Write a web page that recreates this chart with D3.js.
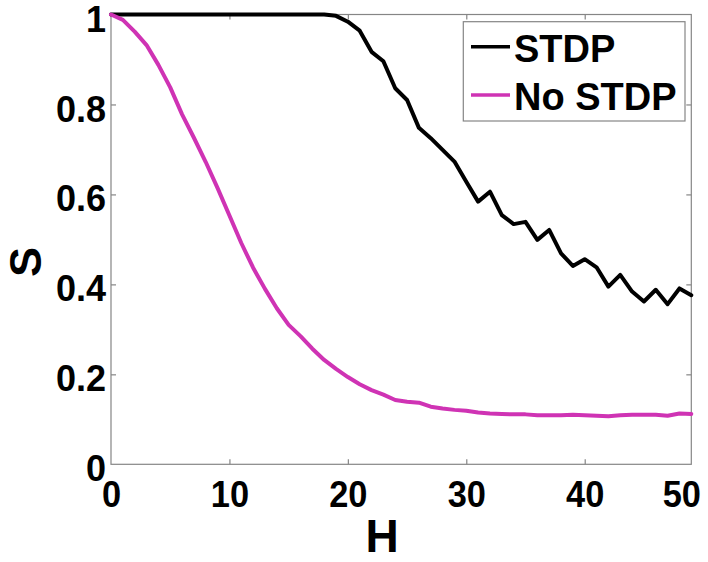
<!DOCTYPE html>
<html>
<head>
<meta charset="utf-8">
<script src="https://cdn.jsdelivr.net/npm/d3@7"></script>
<style>
  html, body { margin: 0; padding: 0; background: #fff; }
  svg { display: block; }
  text { font-family: "Liberation Sans", Arial, Helvetica, sans-serif; font-weight: bold; fill: #000; }
</style>
</head>
<body>
<svg id="chart" width="708" height="562"></svg>
<script>
// ---- data ----
const H = d3.range(0, 50);
const stdp = [1.0, 1.0, 1.0, 1.0, 1.0, 1.0, 1.0, 1.0, 1.0, 1.0,
              1.0, 1.0, 1.0, 1.0, 1.0, 1.0, 1.0, 1.0, 1.0, 0.997,
              0.984, 0.964, 0.917, 0.896, 0.836, 0.81, 0.748, 0.725, 0.699, 0.673,
              0.628, 0.584, 0.606, 0.554, 0.534, 0.539, 0.499, 0.521, 0.469, 0.441,
              0.456, 0.438, 0.395, 0.421, 0.384, 0.362, 0.388, 0.356, 0.391, 0.376];
const noStdp = [1.0, 0.988, 0.962, 0.932, 0.888, 0.838, 0.778, 0.726, 0.672, 0.614,
                0.553, 0.492, 0.437, 0.39, 0.347, 0.31, 0.285, 0.257, 0.232, 0.212,
                0.194, 0.178, 0.165, 0.155, 0.143, 0.139, 0.137, 0.128, 0.124, 0.121,
                0.119, 0.115, 0.113, 0.112, 0.111, 0.111, 0.109, 0.109, 0.109, 0.110,
                0.109, 0.108, 0.107, 0.109, 0.110, 0.110, 0.110, 0.108, 0.113, 0.112];
const seriesNames = ["STDP", "No STDP"];
const seriesColors = ["#000000", "#cf33b4"];
const xTicks = [0, 10, 20, 30, 40, 50];
const yTicks = [0, 0.2, 0.4, 0.6, 0.8, 1];
const yTickLabels = ["0", "0.2", "0.4", "0.6", "0.8", "1"];
const xLabel = "H";
const yLabel = "S";

// ---- layout ----
const pL = 111, pR = 691.3, pT = 14.5, pB = 464.3;
const svg = d3.select("#chart");
const x = d3.scaleLinear().domain([0, 49]).range([pL, pR]);
const y = d3.scaleLinear().domain([0, 1]).range([pB, pT]);
const frame = "#858585";
const fontFam = '"Liberation Sans", Arial, sans-serif';

// box
svg.append("rect").attr("x", pL).attr("y", pT)
  .attr("width", pR - pL).attr("height", pB - pT)
  .attr("fill", "#fff").attr("stroke", frame).attr("stroke-width", 1.2);

// bottom axis
const gx = svg.append("g").attr("transform", `translate(0,${pB})`)
  .call(d3.axisBottom(x).tickValues(xTicks).tickFormat(d3.format("d"))
    .tickSizeInner(-5).tickSizeOuter(0).tickPadding(16));
gx.select(".domain").remove();
gx.selectAll(".tick line").attr("stroke", frame).attr("stroke-width", 1.2)
  .attr("display", d => (d === 0 || d >= 49) ? "none" : null);
gx.selectAll(".tick text").attr("font-size", 37).style("font-family", fontFam)
  .style("font-weight", "bold").attr("fill", "#000")
  .attr("transform", "scale(0.93,1)")
  .attr("dx", d => d > 49 ? (pR - 10 - x(d)) / 0.93 : 0);

// top axis ticks (mirror)
const gxt = svg.append("g").attr("transform", `translate(0,${pT})`)
  .call(d3.axisTop(x).tickValues(xTicks.filter(d => d > 0 && d < 49)).tickFormat("").tickSizeInner(-5).tickSizeOuter(0));
gxt.select(".domain").remove();
gxt.selectAll(".tick line").attr("stroke", frame).attr("stroke-width", 1.2);

// left axis
const gy = svg.append("g").attr("transform", `translate(${pL},0)`)
  .call(d3.axisLeft(y).tickValues(yTicks).tickFormat((d, i) => yTickLabels[i])
    .tickSizeInner(-5).tickSizeOuter(0).tickPadding(5));
gy.select(".domain").remove();
gy.selectAll(".tick line").attr("stroke", frame).attr("stroke-width", 1.2)
  .attr("display", d => (d === 0 || d === 1) ? "none" : null);
gy.selectAll(".tick text").attr("font-size", 36).attr("dy", "0.46em")
  .style("font-family", fontFam).style("font-weight", "bold").attr("fill", "#000");

// right axis ticks (mirror)
const gyr = svg.append("g").attr("transform", `translate(${pR},0)`)
  .call(d3.axisRight(y).tickValues(yTicks.filter(d => d > 0 && d < 1)).tickFormat("").tickSizeInner(-5).tickSizeOuter(0));
gyr.select(".domain").remove();
gyr.selectAll(".tick line").attr("stroke", frame).attr("stroke-width", 1.2);

// axis titles
svg.append("text").attr("x", 382).attr("y", 552).attr("text-anchor", "middle")
  .attr("font-size", 46).text(xLabel);
svg.append("text").attr("transform", "translate(41,262) rotate(-90)").attr("text-anchor", "middle")
  .attr("font-size", 45).text(yLabel);

// lines
const line = d3.line().x((d, i) => x(H[i])).y(d => y(d));
[stdp, noStdp].forEach((s, k) => {
  svg.append("path").datum(s).attr("d", line)
    .attr("fill", "none").attr("stroke", seriesColors[k])
    .attr("stroke-width", 4).attr("stroke-linejoin", "round").attr("stroke-linecap", "round");
});

// legend
const lg = svg.append("g");
lg.append("rect").attr("x", 463.3).attr("y", 21.7).attr("width", 221.7).attr("height", 99.3)
  .attr("fill", "#fff").attr("stroke", frame).attr("stroke-width", 1.2);
seriesNames.forEach((name, k) => {
  const cy = 46.7 + k * 48.3;
  lg.append("line").attr("x1", 471).attr("x2", 510).attr("y1", cy).attr("y2", cy)
    .attr("stroke", seriesColors[k]).attr("stroke-width", 3.5);
  lg.append("text").attr("x", 514).attr("y", cy + 15).attr("font-size", 38).text(name);
});
</script>
</body>
</html>
